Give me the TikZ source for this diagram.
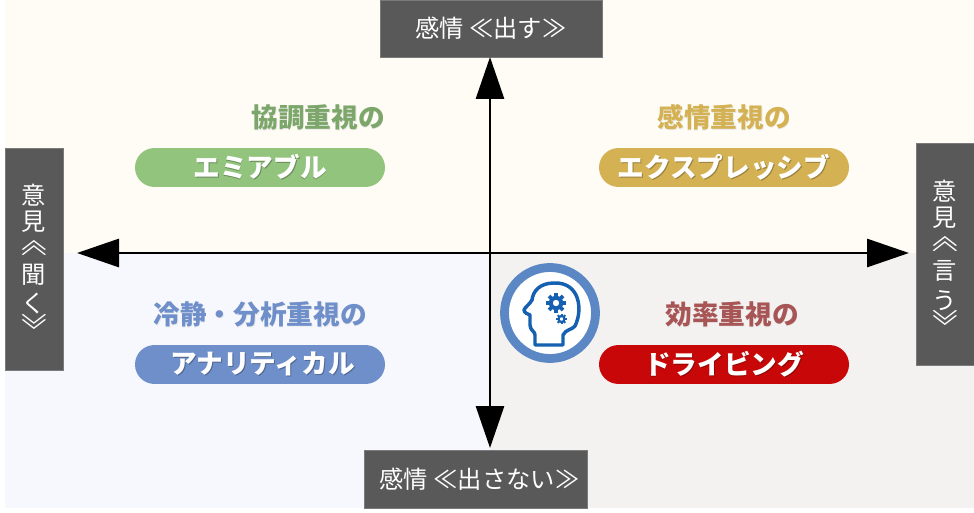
\documentclass[tikz,border=0pt]{standalone}
\usepackage{fontspec}
\usepackage{graphicx}
\usetikzlibrary{arrows.meta,positioning}
\setmainfont{Noto Sans CJK JP}
\definecolor{bgwarm}{HTML}{FFFCF5}
\definecolor{bgcool}{HTML}{F6F8FD}
\definecolor{bggrey}{HTML}{F3F2F1}
\definecolor{boxgrey}{HTML}{595959}
\definecolor{amiable}{HTML}{93C47D}
\definecolor{expressive}{HTML}{D4B254}
\definecolor{analytical}{HTML}{6F8FCB}
\definecolor{driving}{HTML}{C80808}
\definecolor{drivingtext}{HTML}{A85555}
\definecolor{ringblue}{HTML}{5B87C5}
\definecolor{headblue}{HTML}{1560B0}
\newcommand{\softtext}[2]{\leavevmode\rlap{\raisebox{-.9pt}{\hspace{.7pt}\textcolor{#1}{#2}}}#2}
\newcommand{\pilltext}[2]{\raisebox{1.8pt}{\softtext{#1!72!black}{#2}}}
\newcommand{\sideup}{\smash{\rotatebox[origin=c]{-90}{\scalebox{.7}[1.3]{≪}}}}
\newcommand{\sidedown}{\smash{\rotatebox[origin=c]{-90}{\scalebox{.7}[1.3]{≫}}}}
\begin{document}
\begin{tikzpicture}[x=.75pt, y=-.75pt,
		axisline/.style={line width=2.2pt, -{Triangle[length=31.5pt, width=21pt]}},
		axisbox/.style={fill=boxgrey, draw=boxgrey!80, line width=.5pt, text=white, inner sep=0pt, font=\fontsize{18.2}{14}\selectfont},
		pill/.style={rounded corners=14.6pt, minimum width=187.5pt, minimum height=29.2pt, inner sep=0pt, text=white, font=\fontsize{20}{24}\bfseries\selectfont},
		typename/.style={inner sep=0pt, font=\fontsize{20}{24}\bfseries\selectfont}]
	\useasboundingbox (0,0) rectangle (974,513);
	% quadrants
	\fill[bgwarm] (5,0) rectangle (974,253);
	\fill[bgcool] (5,253) rectangle (490,508);
	\fill[bggrey] (490,253) rectangle (974,508);
	% axis boxes
	\node[axisbox, minimum width=166.5pt, minimum height=42.75pt] (boxtop) at (491,28.5) {感情 ≪出す≫};
	\node[axisbox, minimum width=167pt, minimum height=43.5pt] (boxbottom) at (475.5,479) {\hspace{6pt}感情 ≪出さない≫};
	\node[axisbox, minimum width=43.5pt, minimum height=166.5pt, align=center] (boxleft) at (34,259) {\lineskiplimit=-100pt 意\\[2.5pt]見\\[8pt]\sideup\\[2.5pt]聞\\[5pt]く\\[1.5pt]\sidedown\\[-13.5pt]\mbox{}};
	\node[axisbox, minimum width=43.5pt, minimum height=166.5pt, align=center] (boxright) at (945,254) {\lineskiplimit=-100pt \mbox{}\\[.5pt]意\\[2.5pt]見\\[8pt]\sideup\\[2.5pt]言\\[6pt]う\\[1.5pt]\sidedown};
	% axes
	\coordinate (origin) at (490,253);
	\coordinate (tiptop) at (490,57);
	\coordinate (tipbottom) at (490,448);
	\coordinate (tipleft) at (77,253);
	\coordinate (tipright) at (909,253);
	\foreach \t in {tiptop,tipbottom,tipleft,tipright}
		\draw[axisline] (origin) -- (\t);
	% the four types
	\node[typename, text=amiable!85!black] (amiablehead) at (318,118) {\softtext{black!8}{協調重視の}};
	\node[pill, fill=amiable] (amiablepill) at (260,167.5) {\pilltext{amiable}{エミアブル}};
	\node[typename, text=expressive] (expressivehead) at (724,118) {\softtext{black!8}{感情重視の}};
	\node[pill, fill=expressive] (expressivepill) at (724,167.5) {\pilltext{expressive}{エクスプレッシブ}};
	\node[typename, text=analytical] (analyticalhead) at (260,315) {\softtext{black!8}{冷静・分析重視の}};
	\node[pill, fill=analytical, minimum width=187.5pt] (analyticalpill) at (260,364.5) {\hspace{4pt}\pilltext{analytical}{アナリティカル}};
	\node[typename, text=drivingtext] (drivinghead) at (732,315) {\softtext{black!8}{効率重視の}};
	\node[pill, fill=driving] (drivingpill) at (724,364.5) {\pilltext{driving}{ドライビング}};
	% head icon
	\draw[ringblue, fill=white, line width=6.6pt] (550,313) circle (45.5);
	\draw[headblue, line width=2.6pt, line join=round, line cap=round]
		(535,345) -- (563,345) -- (563,335) .. controls (566,329) and (572,330) .. (575,326)
		.. controls (583,310) and (580,282) .. (554,283)
		.. controls (540,283) and (533,291) .. (532,300)
		.. controls (530,304) and (525,307) .. (524,310) .. controls (524,313) and (528,314) .. (530,315)
		-- (530,325)
		.. controls (531,332) and (535,331) .. (535,335) -- cycle;
	\foreach \g/\gx/\gy/\rr in {big/556/303/5.5, small/561.5/319/3}{
		\draw[headblue, line width=\rr*.55pt] (\gx,\gy) circle (\rr);
		\foreach \a in {0,45,...,315}
			\draw[headblue, line width=\rr*.5pt] (\gx,\gy) ++(\a:\rr) -- ++(\a:\rr*.8);
	}
\end{tikzpicture}
\end{document}
